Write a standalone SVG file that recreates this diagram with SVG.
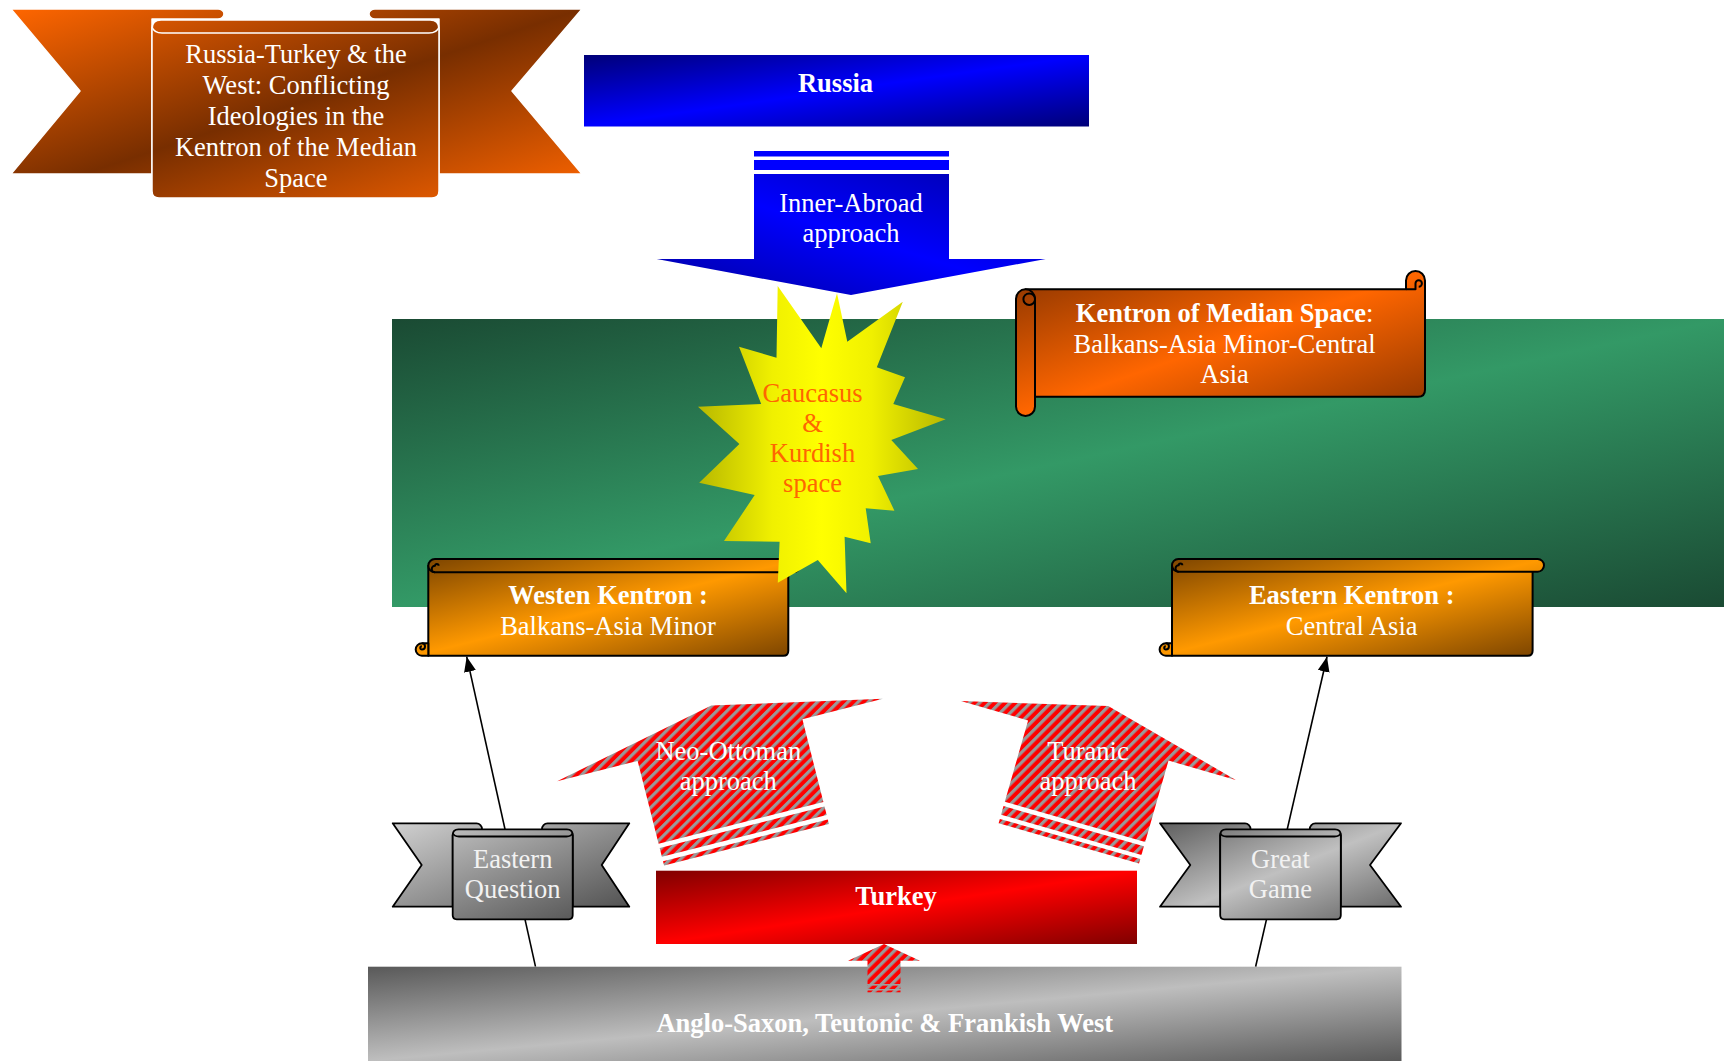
<svg xmlns="http://www.w3.org/2000/svg" width="1724" height="1061" viewBox="0 0 1724 1061">
<defs>
<linearGradient id="gRussia" x1="0" y1="0" x2="1" y2="1"><stop offset="0" stop-color="#000078"/><stop offset="0.5" stop-color="#0000FF"/><stop offset="1" stop-color="#000078"/></linearGradient>
<linearGradient id="gInner" x1="1" y1="0" x2="0" y2="1"><stop offset="0" stop-color="#0000A8"/><stop offset="0.5" stop-color="#0000FF"/><stop offset="1" stop-color="#0000A0"/></linearGradient>
<linearGradient id="gTurkey" x1="0" y1="0" x2="1" y2="1"><stop offset="0" stop-color="#800000"/><stop offset="0.5" stop-color="#FF0000"/><stop offset="1" stop-color="#800000"/></linearGradient>
<linearGradient id="gWest" x1="0" y1="0" x2="1" y2="1"><stop offset="0" stop-color="#595959"/><stop offset="0.5" stop-color="#BEBEBE"/><stop offset="1" stop-color="#595959"/></linearGradient>
<linearGradient id="gGreen" x1="0" y1="0" x2="1" y2="1"><stop offset="0" stop-color="#1A4A33"/><stop offset="0.5" stop-color="#339966"/><stop offset="1" stop-color="#1A4A33"/></linearGradient>
<linearGradient id="gStar" x1="0" y1="0" x2="1" y2="0"><stop offset="0" stop-color="#B8B800"/><stop offset="0.3" stop-color="#F0F000"/><stop offset="0.5" stop-color="#FFFF00"/><stop offset="0.7" stop-color="#F0F000"/><stop offset="1" stop-color="#B8B800"/></linearGradient>
<linearGradient id="gTitle" gradientUnits="userSpaceOnUse" x1="0" y1="0" x2="1" y2="1" gradientTransform="translate(11 9) scale(571 189)"><stop offset="0" stop-color="#FF6600"/><stop offset="0.5" stop-color="#782E00"/><stop offset="1" stop-color="#FF6600"/></linearGradient>
<linearGradient id="gEQ" gradientUnits="userSpaceOnUse" x1="0" y1="0" x2="1" y2="1" gradientTransform="translate(392.7 823.3) scale(236.6 96)"><stop offset="0" stop-color="#D0D0D0"/><stop offset="1" stop-color="#4A4A4A"/></linearGradient>
<linearGradient id="gGG" gradientUnits="userSpaceOnUse" x1="0" y1="0" x2="1" y2="1" gradientTransform="translate(1160 823.3) scale(241 96)"><stop offset="0" stop-color="#5F5F5F"/><stop offset="0.5" stop-color="#C0C0C0"/><stop offset="1" stop-color="#5F5F5F"/></linearGradient>
<linearGradient id="gKM" gradientUnits="userSpaceOnUse" x1="0" y1="0" x2="1" y2="1" gradientTransform="translate(1016 271) scale(409 145)"><stop offset="0" stop-color="#8A3400"/><stop offset="0.5" stop-color="#FF6600"/><stop offset="1" stop-color="#8A3400"/></linearGradient>
<linearGradient id="gWK" gradientUnits="userSpaceOnUse" x1="0" y1="0" x2="1" y2="1" gradientTransform="translate(415.7 559) scale(384.3 96.7)"><stop offset="0" stop-color="#7A4300"/><stop offset="0.5" stop-color="#FF9900"/><stop offset="1" stop-color="#7A4300"/></linearGradient>
<linearGradient id="gEK" gradientUnits="userSpaceOnUse" x1="0" y1="0" x2="1" y2="1" gradientTransform="translate(1159.6 559) scale(384.4 96.7)"><stop offset="0" stop-color="#7A4300"/><stop offset="0.5" stop-color="#FF9900"/><stop offset="1" stop-color="#7A4300"/></linearGradient>
<pattern id="stripes" patternUnits="userSpaceOnUse" width="7.2" height="7.2" patternTransform="rotate(45)"><rect width="7.2" height="7.2" fill="#FF0000"/><rect width="3.2" height="7.2" fill="#999999"/></pattern>
<marker id="arrow" markerUnits="userSpaceOnUse" markerWidth="15" markerHeight="12" refX="15" refY="6" orient="auto"><path d="M0,0 L15,6 L0,12 Z" fill="#000"/></marker>
</defs>
<style>
.t{font-family:"Liberation Serif","Times New Roman",serif;font-size:26.5px;fill:#fff;text-anchor:middle}
.b{font-weight:bold}
.g{fill:#F2F2F2}
.o{fill:#FF6600}
.scroll{stroke:#000;stroke-width:2;stroke-linejoin:round}
.rib{stroke:#000;stroke-width:1.8;stroke-linejoin:round}
.ribw{stroke:#fff;stroke-width:1.5;stroke-linejoin:round}
.conn{stroke:#000;stroke-width:1.6;fill:none}
.st{fill:url(#stripes)}
</style>
<rect width="1724" height="1061" fill="#fff"/>

<g id="median-space-band">
<rect x="392" y="319" width="1332" height="288" fill="url(#gGreen)"/>
</g>

<g id="russia">
<rect x="584" y="55" width="505" height="71.5" fill="url(#gRussia)"/>
<text class="t b" x="835.5" y="92">Russia</text>
</g>

<g id="inner-abroad">
<rect x="754" y="151" width="195" height="5.5" fill="#0000FF"/>
<rect x="754" y="160" width="195" height="10" fill="#0000FF"/>
<path fill="url(#gInner)" d="M754,174 L949,174 L949,259 L1045.7,259 L851,295 L656.7,259 L754,259 Z"/>
<text class="t" x="851" y="211.7">Inner-Abroad</text>
<text class="t" x="851" y="241.7">approach</text>
</g>

<g id="kentron-median">
<path fill="url(#gKM)" class="scroll" d="M1025.5,289.3 L1406,289.3 L1406,280.5 A9.5,9.5 0 0 1 1425,280.5 L1425,389.7 Q1425,396.7 1418,396.7 L1025.5,396.7 Z"/>
<path fill="none" class="scroll" d="M1406,289.3 L1415.5,289.3 L1415.5,283.5 A3.2,3.2 0 0 1 1421.9,283.5 A3.2,3.2 0 0 1 1418.7,286.7"/>
<rect x="1016" y="289.3" width="19" height="126.7" rx="9.5" fill="url(#gKM)" class="scroll"/>
<circle cx="1029.2" cy="299.2" r="5.8" fill="url(#gKM)" class="scroll"/>
<text class="t" x="1224.6" y="321.7"><tspan class="b">Kentron of Median Space</tspan>:</text>
<text class="t" x="1224.6" y="352.7">Balkans-Asia Minor-Central</text>
<text class="t" x="1224.6" y="383.3">Asia</text>
</g>

<g id="westen-kentron">
<path fill="url(#gWK)" class="scroll" d="M428.3,565.7 L788.3,565.7 L788.3,650.7 Q788.3,655.7 783.3,655.7 L428.3,655.7 Z"/>
<rect x="428.3" y="559" width="371.7" height="13.3" rx="6.65" fill="url(#gWK)" class="scroll"/>
<path fill="none" class="scroll" d="M435,572.3 A3.3,3.3 0 0 1 435,565.7 A1.8,1.8 0 0 1 438.6,565.7"/>
<path fill="url(#gWK)" class="scroll" d="M428.3,643.3 L421.9,643.3 A6.2,6.2 0 0 0 421.9,655.7 L428.3,655.7 Z"/>
<path fill="none" class="scroll" d="M421.9,643.3 A3.1,3.1 0 0 1 421.9,649.5 A1.6,1.6 0 0 1 421.9,646.3"/>
<text class="t b" x="608" y="604.3">Westen Kentron :</text>
<text class="t" x="608" y="635">Balkans-Asia Minor</text>
</g>

<g id="eastern-kentron">
<path fill="url(#gEK)" class="scroll" d="M1172,565.7 L1532.6,565.7 L1532.6,650.7 Q1532.6,655.7 1527.6,655.7 L1172,655.7 Z"/>
<rect x="1172" y="559" width="372" height="12.7" rx="6.35" fill="url(#gEK)" class="scroll"/>
<path fill="none" class="scroll" d="M1178.7,571.7 A3.2,3.2 0 0 1 1178.7,565.3 A1.8,1.8 0 0 1 1182.3,565.3"/>
<path fill="url(#gEK)" class="scroll" d="M1172,643.3 L1165.8,643.3 A6.2,6.2 0 0 0 1165.8,655.7 L1172,655.7 Z"/>
<path fill="none" class="scroll" d="M1165.8,643.3 A3.1,3.1 0 0 1 1165.8,649.5 A1.6,1.6 0 0 1 1165.8,646.3"/>
<text class="t b" x="1351.7" y="604.3">Eastern Kentron :</text>
<text class="t" x="1351.7" y="635">Central Asia</text>
</g>

<g id="caucasus-kurdish">
<polygon fill="url(#gStar)" points="777.7,286 821.3,348.3 837,293.3 847.3,341.7 902.8,301.7 876.8,367.3 905,377.3 893.3,404 945.7,419.3 891.3,440 918,469 878,476 894.4,510.7 865.7,508.3 870.7,543.3 844.6,536.7 846.5,593.3 817.8,560 777.8,582.7 779.6,541.7 724,541 754.7,495 699.2,482.7 739.4,444 698,406.7 761.2,404 739,346.7 776.5,357.7"/>
<text class="t o" x="812.5" y="401.7">Caucasus</text>
<text class="t o" x="812.5" y="431.7">&amp;</text>
<text class="t o" x="812.5" y="462.3">Kurdish</text>
<text class="t o" x="812.5" y="491.7">space</text>
</g>

<g id="title-banner">
<path fill="url(#gTitle)" class="ribw" d="M11,9 L218,9 A6,5 0 0 1 218,19 L152,19 L152,174 L11,174 L80,91 Z"/>
<path fill="url(#gTitle)" class="ribw" d="M582,9 L375,9 A6,5 0 0 0 375,19 L439,19 L439,174 L582,174 L512,91 Z"/>
<path fill="url(#gTitle)" class="ribw" d="M152,29 Q152,20 161,20 L430,20 Q439,20 439,29 L439,191 Q439,198 432,198 L159,198 Q152,198 152,191 Z"/>
<path fill="none" class="ribw" d="M152,27 Q154,33 162,33 L429,33 Q437,33 439,27"/>
<text class="t" x="296" y="63.3">Russia-Turkey &amp; the</text>
<text class="t" x="296" y="94.3">West: Conflicting</text>
<text class="t" x="296" y="125">Ideologies in the</text>
<text class="t" x="296" y="155.7">Kentron of the Median</text>
<text class="t" x="296" y="186.7">Space</text>
</g>

<g id="connectors">
<line class="conn" x1="535.5" y1="966.7" x2="466.7" y2="656.7" marker-end="url(#arrow)"/>
<line class="conn" x1="1255.6" y1="966.7" x2="1327" y2="656.7" marker-end="url(#arrow)"/>
</g>

<g id="eastern-question">
<path fill="url(#gEQ)" class="rib" d="M392.7,823.3 L476.5,823.3 A5.5,5.8 0 0 1 476.5,835 L452.7,835 L452.7,906.7 L392.7,906.7 L421.7,865 Z"/>
<path fill="url(#gEQ)" class="rib" d="M629.3,823.3 L547.5,823.3 A5.5,5.8 0 0 0 547.5,835 L572.7,835 L572.7,906.7 L629.3,906.7 L601.7,865 Z"/>
<path fill="url(#gEQ)" class="rib" d="M452.7,835 Q452.7,829.3 458.5,829.3 L566.9,829.3 Q572.7,829.3 572.7,835 L572.7,915.3 Q572.7,919.3 568.7,919.3 L456.7,919.3 Q452.7,919.3 452.7,915.3 Z"/>
<path fill="none" class="rib" d="M452.7,833 Q454,836.5 459,836.5 L566.4,836.5 Q571.4,836.5 572.7,833"/>
<text class="t g" x="512.7" y="868.3">Eastern</text>
<text class="t g" x="512.7" y="898.3">Question</text>
</g>

<g id="great-game">
<path fill="url(#gGG)" class="rib" d="M1160,823.3 L1245,823.3 A5.5,5.8 0 0 1 1245,835 L1220.2,835 L1220.2,906.7 L1160,906.7 L1190.3,865 Z"/>
<path fill="url(#gGG)" class="rib" d="M1401,823.3 L1315.3,823.3 A5.5,5.8 0 0 0 1315.3,835 L1340.8,835 L1340.8,906.7 L1401,906.7 L1370,865 Z"/>
<path fill="url(#gGG)" class="rib" d="M1220.2,835 Q1220.2,829.3 1226,829.3 L1335,829.3 Q1340.8,829.3 1340.8,835 L1340.8,915.3 Q1340.8,919.3 1336.8,919.3 L1224.2,919.3 Q1220.2,919.3 1220.2,915.3 Z"/>
<path fill="none" class="rib" d="M1220.2,833 Q1221.5,836.5 1226.5,836.5 L1334.5,836.5 Q1339.5,836.5 1340.8,833"/>
<text class="t g" x="1280.5" y="868.3">Great</text>
<text class="t g" x="1280.5" y="898.3">Game</text>
</g>

<g id="neo-ottoman">
<path class="st" d="M557.1,781.2 L711.3,705.6 L882.9,698.8 L802.4,719.2 L823.4,802 L658.6,843.7 L637.6,760.9 Z"/>
<path class="st" d="M659.7,848.1 L824.5,806.4 L826.7,815.1 L661.9,856.8 Z"/>
<path class="st" d="M663,861.2 L827.8,819.5 L828.9,823.9 L664.1,865.6 Z"/>
<text class="t" x="728.3" y="760">Neo-Ottoman</text>
<text class="t" x="728.3" y="790">approach</text>
</g>

<g id="turanic">
<path class="st" d="M960.8,701.1 L1108.2,705.9 L1235.8,779.9 L1168.5,760.6 L1145.2,841.9 L1004.8,801.7 L1028.1,720.4 Z"/>
<path class="st" d="M1003.5,806.1 L1143.9,846.3 L1141.5,854.9 L1001.1,814.7 Z"/>
<path class="st" d="M999.9,818.9 L1140.3,859.1 L1139,863.5 L998.6,823.3 Z"/>
<text class="t" x="1088" y="760">Turanic</text>
<text class="t" x="1088" y="790">approach</text>
</g>

<g id="turkey">
<rect x="656" y="870.7" width="481" height="73.3" fill="url(#gTurkey)"/>
<text class="t b" x="896" y="905">Turkey</text>
</g>

<g id="anglo-saxon-west">
<rect x="368" y="966.7" width="1033.5" height="94.3" fill="url(#gWest)"/>
<text class="t b" x="884.8" y="1031.7">Anglo-Saxon, Teutonic &amp; Frankish West</text>
</g>

<g id="west-to-turkey-arrow">
<path class="st" d="M884,944 L920,960.7 L900.5,960.7 L900.5,984 L867.5,984 L867.5,960.7 L848,960.7 Z"/>
<rect class="st" x="867.5" y="985.6" width="33" height="3.4"/>
<rect class="st" x="867.5" y="990.5" width="33" height="1.8"/>
</g>
</svg>
